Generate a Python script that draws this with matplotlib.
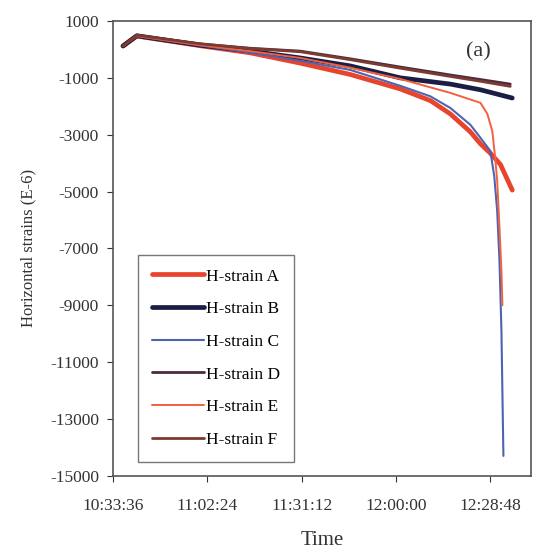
import matplotlib
matplotlib.use("Agg")
import matplotlib.pyplot as plt

plt.rcParams['font.family'] = ['Liberation Serif', 'DejaVu Serif']
plt.rcParams['axes.unicode_minus'] = False

# elapsed minutes since 10:33:36, strain in E-6
t_a = [3.1, 7.3, 26.6, 41.9, 57.1, 72.4, 87.7, 96.9, 103.0, 109.1, 112.2, 115.2, 118.3, 121.9]
h_a = [120, 470, 130, -120, -480, -880, -1390, -1800, -2270, -2900, -3320, -3650, -4050, -4950]

t_b = [3.1, 7.3, 26.6, 41.9, 57.1, 72.4, 87.7, 103.0, 112.2, 121.9]
h_b = [120, 480, 150, -60, -300, -580, -1000, -1220, -1420, -1710]

t_c = [3.1, 7.3, 26.6, 41.9, 57.1, 72.4, 87.7, 96.9, 103.0, 109.1, 112.2, 115.2, 116.4, 117.3, 118.0, 118.6, 119.2]
h_c = [120, 470, 140, -110, -400, -720, -1280, -1650, -2060, -2650, -3110, -3570, -4450, -5680, -7440, -9900, -14300]

t_d = [3.1, 7.3, 26.6, 41.9, 57.1, 72.4, 87.7, 103.0, 112.2, 121.3]
h_d = [120, 490, 190, 40, -60, -330, -620, -900, -1060, -1220]

t_e = [3.1, 7.3, 26.6, 41.9, 57.1, 72.4, 87.7, 103.0, 112.2, 114.3, 115.8, 116.7, 117.3, 117.9, 118.6, 118.9]
h_e = [120, 470, 150, -60, -300, -640, -1040, -1530, -1880, -2270, -2870, -3820, -4620, -6030, -7790, -9000]

t_f = [3.1, 7.3, 26.6, 41.9, 57.1, 72.4, 87.7, 103.0, 112.2, 121.3]
h_f = [120, 500, 200, 30, -80, -360, -660, -950, -1120, -1300]

tick_min = [0, 28.8, 57.6, 86.4, 115.2]
tick_lab = ['10:33:36', '11:02:24', '11:31:12', '12:00:00', '12:28:48']
ytick = [1000, -1000, -3000, -5000, -7000, -9000, -11000, -13000, -15000]

fig = plt.figure(figsize=(5.35, 5.52), dpi=100)
ax = fig.add_axes([0.211, 0.138, 0.782, 0.824])

kw = dict(solid_joinstyle='round', solid_capstyle='round')
ax.plot(t_a, h_a, color='#e8432b', lw=3.4, label='H-strain A', **kw)
ax.plot(t_b, h_b, color='#1c1d45', lw=3.4, label='H-strain B', **kw)
ax.plot(t_c, h_c, color='#4f63b3', lw=1.5, label='H-strain C', **kw)
ax.plot(t_d, h_d, color='#4a2c3e', lw=2.0, label='H-strain D', **kw)
ax.plot(t_e, h_e, color='#f2603e', lw=1.4, label='H-strain E', **kw)
ax.plot(t_f, h_f, color='#7d3a30', lw=2.0, label='H-strain F', **kw)

ax.set_xlim(0, 127.7)
ax.set_ylim(-15000, 1000)
ax.set_xticks(tick_min)
ax.set_xticklabels(tick_lab)
ax.set_yticks(ytick)
ax.tick_params(labelsize=12.5, direction='out', length=4, colors='#333333')
ax.tick_params(axis='x', pad=12)
ax.tick_params(axis='y', pad=6)
for s in ax.spines.values():
    s.set_color('#555555')
    s.set_linewidth(1.2)

ax.set_xlabel('Time', fontsize=15, color='#333333', labelpad=12)
ax.set_ylabel('Horizontal strains (E-6)', fontsize=12, color='#333333', labelpad=10)
ax.text(0.845, 0.922, '(a)', transform=ax.transAxes, fontsize=16, color='#333333')

leg = ax.legend(loc='lower left', bbox_to_anchor=(0.04, 0.012), fontsize=12.5,
                frameon=True, fancybox=False, edgecolor='#555555', handlelength=3.0,
                handletextpad=0.1, labelspacing=0.95, borderpad=0.8)
leg.get_frame().set_linewidth(1.0)

fig.savefig('out.png', dpi=100)
